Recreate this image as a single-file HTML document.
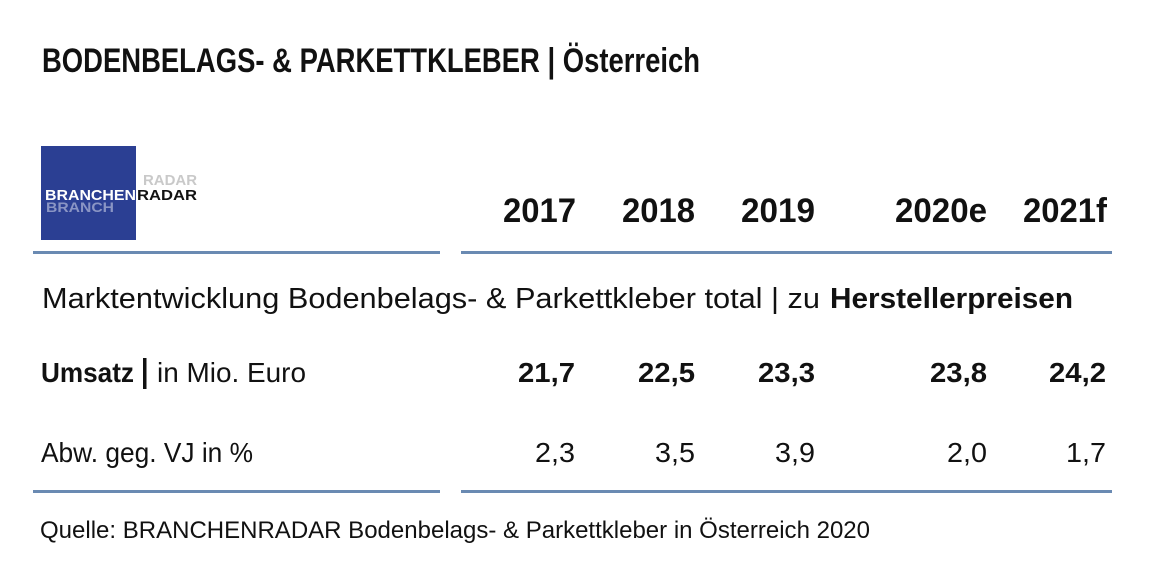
<!DOCTYPE html>
<html>
<head>
<meta charset="utf-8">
<style>
html,body{margin:0;padding:0;background:#fff;}
svg{display:block;}
text{font-family:"Liberation Sans", "DejaVu Sans", sans-serif;fill:#111;}
.b{font-weight:bold;}
</style>
</head>
<body>
<svg width="1168" height="581" viewBox="0 0 1168 581" xmlns="http://www.w3.org/2000/svg">
<rect x="0" y="0" width="1168" height="581" fill="#fff"/>

<!-- Title -->
<text class="b" x="42" y="72" font-size="34" textLength="658" lengthAdjust="spacingAndGlyphs">BODENBELAGS- &amp; PARKETTKLEBER | Österreich</text>

<!-- Logo -->
<rect x="41" y="146" width="95" height="94" fill="#2b3f93"/>
<text class="b" x="143" y="185" font-size="15" style="fill:#c9c9c9" textLength="54" lengthAdjust="spacingAndGlyphs">RADAR</text>
<text class="b" x="46" y="212" font-size="14" style="fill:#8a95c4" textLength="68" lengthAdjust="spacingAndGlyphs">BRANCH</text>
<text class="b" x="45" y="200" font-size="15" style="fill:#ffffff" textLength="91" lengthAdjust="spacingAndGlyphs">BRANCHEN</text>
<text class="b" x="137" y="200" font-size="15" style="fill:#111" textLength="60" lengthAdjust="spacingAndGlyphs">RADAR</text>

<!-- Year headers -->
<g font-size="34">
<text class="b" x="576" y="222" text-anchor="end" textLength="73" lengthAdjust="spacingAndGlyphs">2017</text>
<text class="b" x="695" y="222" text-anchor="end" textLength="73" lengthAdjust="spacingAndGlyphs">2018</text>
<text class="b" x="815" y="222" text-anchor="end" textLength="74" lengthAdjust="spacingAndGlyphs">2019</text>
<text class="b" x="987" y="222" text-anchor="end" textLength="92" lengthAdjust="spacingAndGlyphs">2020e</text>
<text class="b" x="1107" y="222" text-anchor="end" textLength="84" lengthAdjust="spacingAndGlyphs">2021f</text>
</g>

<!-- Lines -->
<rect x="33" y="251" width="407" height="3" fill="#6a8ab2"/>
<rect x="461" y="251" width="651" height="3" fill="#6a8ab2"/>
<rect x="33" y="490" width="407" height="3" fill="#6a8ab2"/>
<rect x="461" y="490" width="651" height="3" fill="#6a8ab2"/>

<!-- Subtitle row -->
<text x="42" y="308" font-size="29" textLength="778" lengthAdjust="spacingAndGlyphs">Marktentwicklung Bodenbelags- &amp; Parkettkleber total | zu</text>
<text class="b" x="830" y="308" font-size="29" textLength="243" lengthAdjust="spacingAndGlyphs">Herstellerpreisen</text>

<!-- Umsatz row -->
<text class="b" x="41" y="382" font-size="28" textLength="93" lengthAdjust="spacingAndGlyphs">Umsatz</text>
<rect x="143" y="358" width="3.5" height="31" fill="#111"/>
<text x="157" y="382" font-size="28" textLength="149" lengthAdjust="spacingAndGlyphs">in Mio. Euro</text>
<g font-size="28">
<text class="b" x="575" y="382" text-anchor="end" textLength="57" lengthAdjust="spacingAndGlyphs">21,7</text>
<text class="b" x="695" y="382" text-anchor="end" textLength="57" lengthAdjust="spacingAndGlyphs">22,5</text>
<text class="b" x="815" y="382" text-anchor="end" textLength="57" lengthAdjust="spacingAndGlyphs">23,3</text>
<text class="b" x="987" y="382" text-anchor="end" textLength="57" lengthAdjust="spacingAndGlyphs">23,8</text>
<text class="b" x="1106" y="382" text-anchor="end" textLength="57" lengthAdjust="spacingAndGlyphs">24,2</text>
</g>

<!-- Abw row -->
<text x="41" y="462" font-size="28" textLength="212" lengthAdjust="spacingAndGlyphs">Abw. geg. VJ in %</text>
<g font-size="28">
<text x="575" y="462" text-anchor="end" textLength="40" lengthAdjust="spacingAndGlyphs">2,3</text>
<text x="695" y="462" text-anchor="end" textLength="40" lengthAdjust="spacingAndGlyphs">3,5</text>
<text x="815" y="462" text-anchor="end" textLength="40" lengthAdjust="spacingAndGlyphs">3,9</text>
<text x="987" y="462" text-anchor="end" textLength="40" lengthAdjust="spacingAndGlyphs">2,0</text>
<text x="1106" y="462" text-anchor="end" textLength="40" lengthAdjust="spacingAndGlyphs">1,7</text>
</g>

<!-- Source -->
<text x="40" y="538" font-size="24" textLength="830" lengthAdjust="spacingAndGlyphs">Quelle: BRANCHENRADAR Bodenbelags- &amp; Parkettkleber in Österreich 2020</text>
</svg>
</body>
</html>
